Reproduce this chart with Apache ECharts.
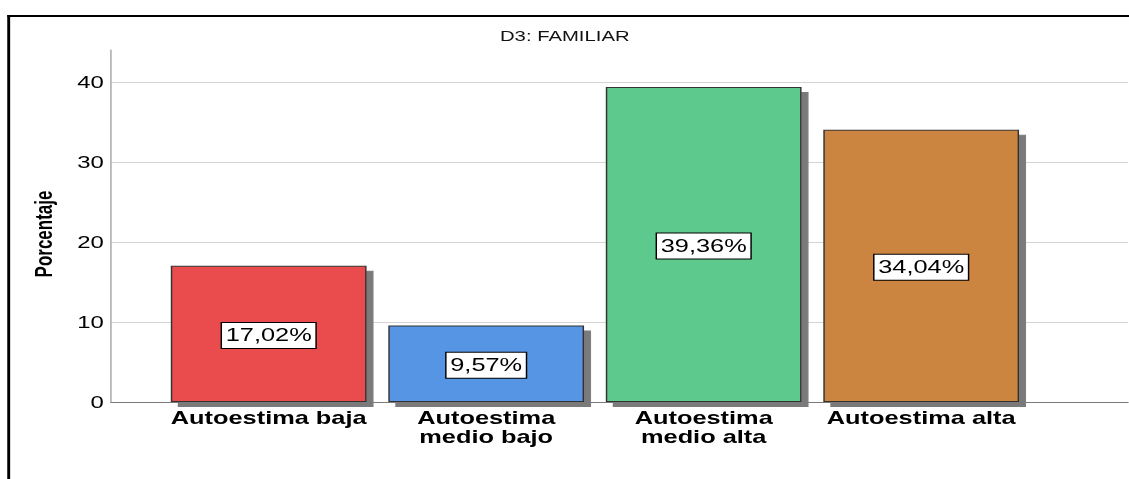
<!DOCTYPE html>
<html>
<head>
<meta charset="utf-8">
<script src="https://cdn.jsdelivr.net/npm/echarts@6/dist/echarts.min.js"></script>
<style>
  html, body { margin: 0; padding: 0; background: #fff; overflow: hidden; }
  #stage { position: absolute; left: 0; top: 0; width: 778.62px; height: 479px; transform: scaleX(1.45); transform-origin: 0 0; }
  #frame { position: absolute; left: 5px; top: 15px; width: 800px; height: 500px; border-top: 2px solid #000; border-left: 2px solid #000; }
  #chart { position: absolute; left: 0; top: 0; width: 778.62px; height: 479px; }
</style>
</head>
<body>
<div id="stage">
  <div id="frame"></div>
  <div id="chart"></div>
</div>
<script>
const titleText = 'D3: FAMILIAR';
const yAxisName = 'Porcentaje';
const categories = ['Autoestima baja', 'Autoestima\nmedio bajo', 'Autoestima\nmedio alta', 'Autoestima alta'];
const values = [17.02, 9.57, 39.36, 34.04];
const barColors = ['#EA4B4E', '#5495E3', '#5DC98C', '#CC853F'];
const yMin = 0;
const yMax = 44;
const yInterval = 10;

const chart = echarts.init(document.getElementById('chart'), null, { renderer: 'svg' });
const fontFam = "'Liberation Sans', Arial, sans-serif";

chart.setOption({
  animation: false,
  backgroundColor: 'transparent',
  title: {
    text: titleText,
    left: 'center',
    top: 29,
    padding: [0, 0, 0, 12],
    textStyle: { fontSize: 14, fontWeight: 'normal', color: '#111', fontFamily: fontFam }
  },
  grid: [
    { left: 76.55, top: 50, width: 701.4, height: 352, containLabel: false },
    { left: 110.3, top: 50, width: 600, height: 352, containLabel: false }
  ],
  xAxis: [
    {
      gridIndex: 0, type: 'value', min: 0, max: 1,
      axisLine: { show: true, lineStyle: { color: '#7a7a7a', width: 1 } },
      axisTick: { show: false }, axisLabel: { show: false }, splitLine: { show: false }
    },
    {
      gridIndex: 1, type: 'category', data: categories,
      axisLine: { show: false }, axisTick: { show: false },
      axisLabel: {
        interval: 0, margin: 6, fontSize: 17.5, lineHeight: 19, fontWeight: 'bold',
        color: '#000', fontFamily: fontFam
      }
    }
  ],
  yAxis: [
    {
      gridIndex: 0, type: 'value', min: yMin, max: yMax, interval: yInterval,
      name: yAxisName, nameLocation: 'middle', nameGap: 38, nameRotate: 90,
      nameTextStyle: { fontSize: 17, fontWeight: 'bold', color: '#000', fontFamily: fontFam, padding: [0, 16, 0, 0] },
      axisLine: { show: true, lineStyle: { color: '#a6a6a6', width: 1 } },
      axisTick: { show: false },
      axisLabel: { fontSize: 16.5, color: '#000', margin: 5, fontFamily: fontFam, showMaxLabel: false },
      splitLine: { show: true, showMinLine: false, showMaxLine: false, lineStyle: { color: '#d4d4d4', width: 1 } }
    },
    {
      gridIndex: 1, type: 'value', min: yMin, max: yMax, show: false
    }
  ],
  series: [
    {
      type: 'bar',
      xAxisIndex: 1, yAxisIndex: 1,
      barCategoryGap: '10%',
      data: values.map((v, i) => ({ value: v, itemStyle: { color: barColors[i] } })),
      itemStyle: {
        borderColor: '#333', borderWidth: 1,
        shadowColor: '#7a7a7a', shadowOffsetX: 4.8, shadowOffsetY: 5, shadowBlur: 0
      },
      label: {
        show: true, position: 'inside',
        offset: [0, 1.5],
        formatter: p => p.value.toFixed(2).replace('.', ',') + '%',
        fontSize: 17.5, color: '#000', fontFamily: fontFam,
        backgroundColor: '#fff', borderColor: '#000', borderWidth: 1,
        padding: [4, 2.5, 3, 2.5]
      }
    }
  ]
});
</script>
</body>
</html>
